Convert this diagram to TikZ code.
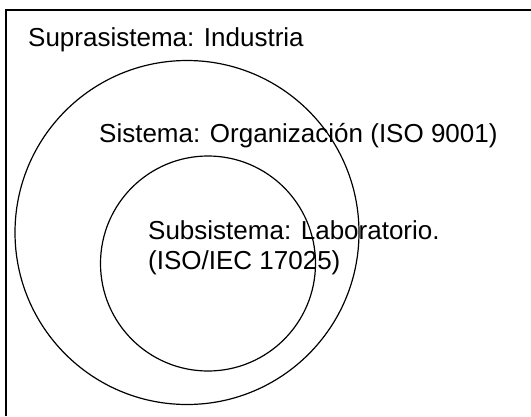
\documentclass[tikz,border=0pt]{standalone}
\usepackage{fontspec}
\setmainfont{Liberation Sans}
\begin{document}
\begin{tikzpicture}[x=1pt,y=-1pt,
  frame/.style={line width=1.3pt},
  ring/.style={draw, circle, line width=1.2pt, inner sep=0pt},
  lbl/.style={inner sep=0pt, font=\fontsize{26}{30.5}\selectfont}]
\useasboundingbox (0,0) rectangle (531,416);
\fill[white] (0,0) rectangle (531,416);
\coordinate (fbl) at (6,416);
\coordinate (ftl) at (6,10);
\coordinate (ftr) at (531,10);
\draw[frame] (fbl) -- (ftl) -- (ftr);
\node[ring, minimum size=344pt] (org) at (187,232.5) {};
\node[ring, minimum size=215pt] (lab) at (208,263.5) {};
\node[lbl, anchor=base west] (supra) at (28,46) {Suprasistema: Industria};
\node[lbl, anchor=base west] (sis) at (99,142.3) {Sistema: Organización (ISO 9001)};
\node[lbl, anchor=north west, align=left] (sub) at (148,220) {Subsistema: Laboratorio.\\(ISO/IEC 17025)};
\end{tikzpicture}
\end{document}
